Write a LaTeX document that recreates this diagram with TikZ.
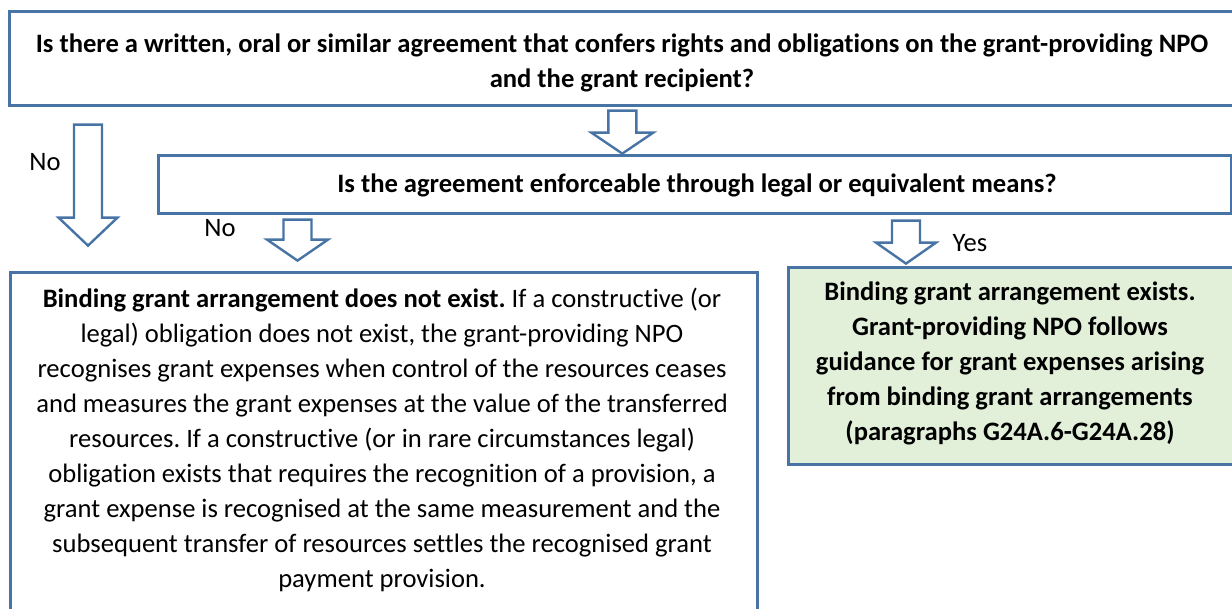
\documentclass[tikz,border=0pt]{standalone}
\usepackage{fontspec}
\setmainfont{Carlito}[Ligatures=NoCommon]
\usetikzlibrary{calc}
\frenchspacing

\definecolor{frameblue}{RGB}{72,116,165}
\definecolor{softgreen}{RGB}{226,239,217}

% hollow block arrow pointing down:
% #1 top centre, #2 total length, #3 head length, #4 head half-width
\newcommand{\hollowdown}[4]{%
  \draw[arrowline] ($#1+(-14,0)$) -- ++(28,0) -- ++(0,{#2-#3}) -- ++({#4-14},0)
    -- ++(-#4,#3) -- ++(-#4,-#3) -- ++({#4-14},0) -- cycle;}

\begin{document}
\begin{tikzpicture}[x=1pt,y=-1pt,
  box/.style={draw=frameblue, line width=2.6pt, inner sep=0pt, anchor=north west},
  arrowline/.style={draw=frameblue, line width=2.4pt, fill=white, line join=miter},
  txt/.style={inner sep=0pt, align=center, font=\fontsize{26.6}{35}\selectfont},
  boldtxt/.style={txt, font=\fontsize{26.6}{35}\selectfont\bfseries},
  lbl/.style={inner sep=0pt, font=\fontsize{26.6}{35}\selectfont}]
\clip (0,0) rectangle (1232,608);
\fill[white] (0,0) rectangle (1232,608);

% boxes
\node[box, minimum width=1226pt, minimum height=94pt] (q1) at (8,10) {};
\node[box, minimum width=1073pt, minimum height=58pt] (q2) at (157,154) {};
\node[box, minimum width=747pt, minimum height=360pt] (nobind) at (9,271) {};
\node[box, fill=softgreen, minimum width=447pt, minimum height=197pt] (bind) at (787,266) {};

% texts
\node[boldtxt] (q1t) at (622,62.5) {Is there a written, oral or similar agreement that confers rights and obligations on the grant-providing NPO\\
and the grant recipient?};
\node[boldtxt] (q2t) at (697,185) {Is the agreement enforceable through legal or equivalent means?};
\node[txt] (nobindt) at (382,440) {\textbf{Binding grant arrangement does not exist.} If a constructive (or\\
legal) obligation does not exist, the grant-providing NPO\\
recognises grant expenses when control of the resources ceases\\
and measures the grant expenses at the value of the transferred\\
resources. If a constructive (or in rare circumstances legal)\\
obligation exists that requires the recognition of a provision, a\\
grant expense is recognised at the same measurement and the\\
subsequent transfer of resources settles the recognised grant\\
payment provision.};
\node[boldtxt] (bindt) at (1010,363) {Binding grant arrangement exists.\\
Grant-providing NPO follows\\
guidance for grant expenses arising\\
from binding grant arrangements\\
(paragraphs G24A.6-G24A.28)};

% connectors
\hollowdown{(q1.south)+(0,4)}{43}{21}{31}
\hollowdown{(q1.south west)+(80,18)}{121}{28}{29.5}
\hollowdown{(q2.south west)+(140.5,5)}{41}{21}{30.5}
\hollowdown{(q2.south west)+(749,6)}{43}{21}{30}

% branch labels
\node[lbl] (no1) at (45,162) {No};
\node[lbl] (no2) at (220,228) {No};
\node[lbl] (yes) at (970,243) {Yes};
\end{tikzpicture}
\end{document}
